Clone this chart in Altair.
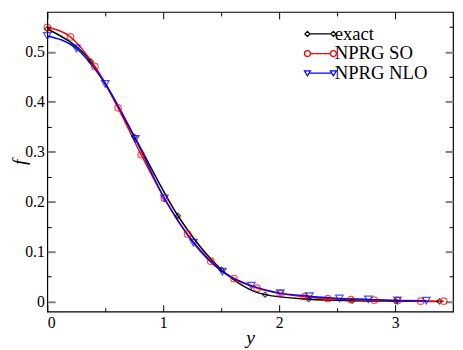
import altair as alt
import pandas as pd

series_names = ["exact", "NPRG SO", "NPRG NLO"]

exact_y = [0.0, 0.376, 0.752, 1.127, 1.503, 1.879, 2.255, 2.63, 3.006, 3.382]
exact_f = [0.546, 0.481, 0.330, 0.172, 0.064, 0.014, 0.005, 0.002, 0.001, 0.0005]

so_y = [0.0, 0.2, 0.41, 0.61, 0.81, 1.01, 1.21, 1.41, 1.61, 1.81, 2.01, 2.22,
        2.42, 2.62, 2.82, 3.02, 3.22, 3.42]
so_f = [0.549, 0.530, 0.471, 0.388, 0.294, 0.207, 0.135, 0.081, 0.046, 0.027,
        0.016, 0.010, 0.006, 0.004, 0.003, 0.002, 0.001, 0.001]

nlo_y = [0.0, 0.25, 0.50, 0.76, 1.01, 1.26, 1.51, 1.76, 2.01, 2.26, 2.52, 2.77,
         3.02, 3.27]
nlo_f = [0.532, 0.507, 0.436, 0.326, 0.207, 0.118, 0.060, 0.032, 0.017, 0.011,
         0.0065, 0.0045, 0.0025, 0.002]

x_major = [0, 1, 2, 3]
x_minor = [0.5, 1.5, 2.5]
y_major = [0, 0.1, 0.2, 0.3, 0.4, 0.5]
y_minor = [0.05, 0.15, 0.25, 0.35, 0.45, 0.55]

colors = ["#000000", "#ff0000", "#0000ff"]
marker_shapes = ["diamond", "circle", "triangle-down"]
marker_sizes = [28, 60, 45]

# legend symbols: a short line with a marker at each end
legend_paths = [
    "M-2.13,0L2.13,0M-2.64,-0.51L-2.13,0L-2.64,0.51L-3.15,0ZM2.64,-0.51L3.15,0L2.64,0.51L2.13,0Z",
    "M-2.04,0L2.04,0M-2.04,0A0.6,0.6 0 1 1 -3.24,0A0.6,0.6 0 1 1 -2.04,0ZM3.24,0A0.6,0.6 0 1 1 2.04,0A0.6,0.6 0 1 1 3.24,0Z",
    "M-2.16,0L2.16,0M-3.24,-0.45L-2.04,-0.45L-2.64,0.54ZM2.04,-0.45L3.24,-0.45L2.64,0.54Z",
]

rows = []
for name, xs_, fs_ in [("exact", exact_y, exact_f), ("NPRG SO", so_y, so_f), ("NPRG NLO", nlo_y, nlo_f)]:
    for a, b in zip(xs_, fs_):
        rows.append({"series": name, "yv": a, "f": b})
df = pd.DataFrame(rows)

xs = alt.Scale(domain=[0, 3.5], nice=False, zero=False)
ys = alt.Scale(domain=[-0.02, 0.58], nice=False, zero=False)
cs = alt.Scale(domain=series_names, range=colors)

SERIF = "Liberation Serif"
ax_font = dict(labelFont=SERIF, labelFontSize=16, labelColor="black",
               titleFont=SERIF, titleFontSize=20, titleFontWeight="normal",
               titleColor="black", grid=False, domain=False)

base = alt.Chart(df)

lines = base.mark_line(strokeWidth=1.5, interpolate="monotone").encode(
    x=alt.X("yv:Q", scale=xs, axis=alt.Axis(
        orient="bottom", values=x_major, format="~g", tickSize=7, offset=-7,
        labelPadding=3, title="y", titleFontStyle="italic", titlePadding=-3,
        tickColor="black", tickWidth=1, **ax_font)),
    y=alt.Y("f:Q", scale=ys, axis=alt.Axis(
        orient="left", values=y_major, format="~g", tickSize=8, offset=-8,
        labelPadding=3, title="f", titleFontStyle="italic", titlePadding=-5,
        tickColor="#808080", tickWidth=2, **ax_font)),
    color=alt.Color("series:N", scale=cs, legend=None),
)

points = base.mark_point(filled=False, strokeWidth=1.2).encode(
    x=alt.X("yv:Q", scale=xs, axis=alt.Axis(
        orient="bottom", values=x_minor, tickSize=4, offset=-4, labels=False, title=None,
        tickColor="black", tickWidth=1, **ax_font)),
    y=alt.Y("f:Q", scale=ys, axis=alt.Axis(
        orient="left", values=y_minor, tickSize=4, offset=-4, labels=False, title=None,
        tickColor="black", tickWidth=1, **ax_font)),
    color=alt.Color("series:N", scale=cs, legend=None),
    shape=alt.Shape("series:N", scale=alt.Scale(domain=series_names, range=marker_shapes), legend=None),
    size=alt.Size("series:N", scale=alt.Scale(domain=series_names, range=marker_sizes), legend=None),
)

leg = dict(title=None, orient="none", legendX=258, legendY=14.5, symbolSize=100,
           symbolOpacity=1, symbolStrokeWidth=1.3, symbolOffset=10.5, labelOffset=5,
           rowPadding=0, clipHeight=15.6,
           padding=0, labelFontSize=19, labelFont=SERIF, labelColor="black")

legend_layer = base.mark_point(filled=False, opacity=0).encode(
    x=alt.X("yv:Q", scale=xs, axis=alt.Axis(
        orient="top", values=x_major, tickSize=7, offset=-7, labels=False, title=None,
        tickColor="black", tickWidth=1, **ax_font)),
    y=alt.Y("f:Q", scale=ys, axis=alt.Axis(
        orient="right", values=y_major, tickSize=8, offset=-8, labels=False, title=None,
        tickColor="#808080", tickWidth=2, **ax_font)),
    color=alt.Color("series:N", scale=cs, legend=alt.Legend(**leg)),
    shape=alt.Shape("series:N", scale=alt.Scale(domain=series_names, range=legend_paths),
                    legend=alt.Legend(**leg)),
)

minor_top = base.mark_point(opacity=0).encode(
    x=alt.X("yv:Q", scale=xs, axis=alt.Axis(
        orient="top", values=x_minor, tickSize=4, offset=-4, labels=False, title=None,
        tickColor="black", tickWidth=1, **ax_font)),
    y=alt.Y("f:Q", scale=ys, axis=alt.Axis(
        orient="right", values=y_minor, tickSize=4, offset=-4, labels=False, title=None,
        tickColor="black", tickWidth=1, **ax_font)),
)

chart = alt.layer(lines, points, legend_layer, minor_top).resolve_scale(
    color="independent", shape="independent", size="independent"
).resolve_axis(
    x="independent", y="independent"
).properties(
    width=413, height=305,
    autosize=alt.AutoSizeParams(type="none"),
    padding={"left": 40, "top": 1, "right": 2, "bottom": 36},
).configure_view(
    stroke="black", strokeWidth=1.2
).configure_axis(
    grid=False, domain=False,
    labelFont=SERIF, labelFontSize=16, labelColor="black",
    titleFont=SERIF, titleFontSize=20, titleFontWeight="normal", titleColor="black",
)

chart.save("out.html", embed_options={"renderer": "svg", "actions": False})
